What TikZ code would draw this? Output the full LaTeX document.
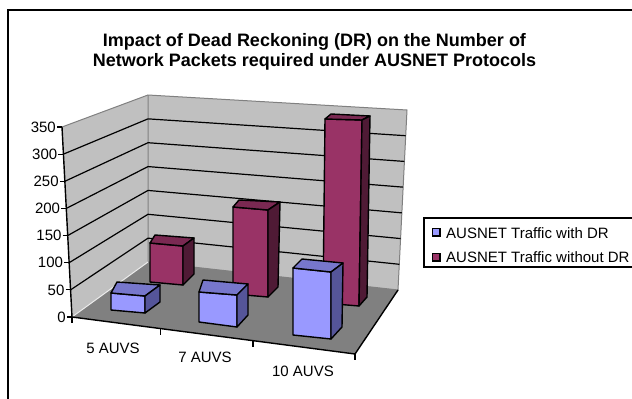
\documentclass[tikz,border=0pt]{standalone}
\usepackage{fontspec}
\setmainfont{Liberation Sans}
\definecolor{bluefront}{HTML}{9999FF}
\definecolor{bluetop}{HTML}{7777CC}
\definecolor{blueside}{HTML}{555599}
\definecolor{maroonfront}{HTML}{993366}
\definecolor{maroontop}{HTML}{7A2952}
\definecolor{maroonside}{HTML}{4F1A35}
\definecolor{wallgray}{HTML}{C0C0C0}
\definecolor{floorgray}{HTML}{808080}
\newcommand{\drawbar}[8]{%
  \filldraw[barline, fill=#1front] #2 -- #3 -- #4 -- #5 -- cycle;
  \filldraw[barline, fill=#1top] #2 -- #6 -- #7 -- #3 -- cycle;
  \filldraw[barline, fill=#1side] #3 -- #7 -- #8 -- #4 -- cycle;
}
\tikzset{
  barline/.style={draw=black, line width=1.4pt, line join=round},
  gridline/.style={draw=black, line width=1.2pt},
  edgeline/.style={draw=floorgray, line width=1pt},
  axisline/.style={draw=black, line width=1.4pt},
  lbl/.style={font=\fontsize{15}{18}\selectfont, inner sep=0pt},
  ttl/.style={font=\fontsize{18}{22}\selectfont\bfseries, inner sep=0pt, anchor=base},
}
\begin{document}
\begin{tikzpicture}[x=1pt, y=-1pt]
\useasboundingbox (0,0) rectangle (632,399);
% outer frame
\draw[line width=1.6pt] (8,10) rectangle (700,500);
% title
\node[ttl] (t1) at (314.5,46) {Impact of Dead Reckoning (DR) on the Number of};
\node[ttl] (t2) at (314.5,66) {Network Packets required under AUSNET Protocols};
% walls and floor
\fill[wallgray] (62,127) -- (148,95) -- (148,262) -- (72,317) -- cycle;
\fill[wallgray] (148,95) -- (407,110) -- (398,290) -- (148,262) -- cycle;
\fill[floorgray] (148,262) -- (398,290) -- (355,354) -- (72,317) -- cycle;
\draw[edgeline] (62,127) -- (148,95) -- (407,110) -- (398,290);
\draw[edgeline] (148,95) -- (148,262) -- (398,290);
\draw[draw=white!85!gray, line width=1pt] (72,317) -- (148,262);
% gridlines
\foreach \v in {50,100,...,300}{
  \pgfmathsetmacro{\f}{\v/350}
  \draw[gridline] ({72-10*\f},{317-190*\f}) -- (148,{262-167*\f}) -- ({398+9*\f},{290-180*\f});
}
% floor front and right edges
\draw[axisline] (72,317) -- (355,354) -- (398,290);
% category ticks
\foreach \px/\py in {72/317, 160.5/328.6, 253/340.8, 355/354}{
  \draw[line width=1.2pt] (\px,\py) -- (\px,\py+6);
}
% value axis
\draw[axisline] (62,127) -- (72,317);
\foreach \v in {0,50,...,350}{
  \pgfmathsetmacro{\f}{\v/350}
  \pgfmathsetmacro{\ax}{72-10*\f}
  \pgfmathsetmacro{\ay}{317-190*\f}
  \draw[line width=1.2pt] (\ax-5,\ay) -- (\ax,\ay);
  \node[lbl, anchor=east] (y\v) at (\ax-6,\ay) {\v};
}
% back row: without DR
\drawbar{maroon}{(150,243)}{(183,246)}{(183,285)}{(150,282)}{(155,235)}{(194,238)}{(194,274)}
\drawbar{maroon}{(233,207)}{(268,210)}{(268,297)}{(233,294)}{(239,200)}{(280,202)}{(278,287)}
\drawbar{maroon}{(325,119)}{(362,120)}{(359,306)}{(323,303)}{(331,114)}{(370,116)}{(367,297)}
% front row: with DR
\drawbar{blue}{(111,293)}{(145,296)}{(145,313)}{(111,310)}{(117,282)}{(160,285)}{(160,302)}
\drawbar{blue}{(199,292)}{(237,295)}{(237,327)}{(199,322)}{(203,280)}{(248,284)}{(248,315)}
\drawbar{blue}{(293,268)}{(331,272)}{(331,339)}{(293,335)}{(302,259)}{(343,263)}{(342,327)}
% category labels
\node[lbl] (c5) at (113,348) {5 AUVS};
\node[lbl] (c7) at (205,357) {7 AUVS};
\node[lbl] (c10) at (303,371) {10 AUVS};
% legend
\draw[line width=1.5pt] (424,218) rectangle (700,267);
\filldraw[fill=bluefront, draw=black, line width=1.3pt] (432.5,228.5) rectangle (440,236);
\filldraw[fill=maroonfront, draw=black, line width=1.3pt] (432.5,253.5) rectangle (440,261);
\node[lbl, anchor=base west] (l1) at (446,238) {AUSNET Traffic with DR};
\node[lbl, anchor=base west] (l2) at (446,262) {AUSNET Traffic without DR};
\end{tikzpicture}
\end{document}
